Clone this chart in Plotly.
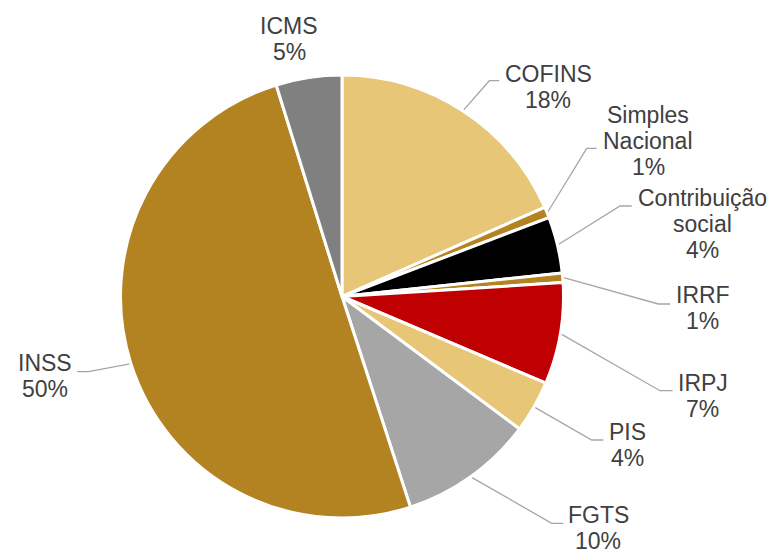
import math
import plotly.graph_objects as go

# --- data ---
labels = ['COFINS', 'Simples Nacional', 'Contribuição social', 'IRRF', 'IRPJ',
          'PIS', 'FGTS', 'INSS', 'ICMS']
values = [18.4, 0.8, 4.1, 0.7, 7.4, 3.8, 9.8, 50.2, 4.8]
colors = ['#E8C678', '#B38321', '#000000', '#B38321', '#C00000',
          '#E8C678', '#A6A6A6', '#B38321', '#808080']
label_lines = [['COFINS'], ['Simples', 'Nacional'], ['Contribuição', 'social'],
               ['IRRF'], ['IRPJ'], ['PIS'], ['FGTS'], ['INSS'], ['ICMS']]

# --- layout (pixels, figure is 770x552) ---
W, H = 770, 552
CX, CY, R = 342, 296.5, 221.5
label_pos = [(548, 74.3), (648, 115), (702.7, 198.3), (702.5, 295), (702.5, 383.3),
             (627.5, 431.7), (598.3, 515), (45, 363.3), (289, 25.8)]
# elbow point and end x of each leader line (None = no line)
elbows = [(489.3, 80.7, 499.3), (586.7, 148.3, 596.7), (620, 206, 631.7),
          (658.3, 304, 670), (660, 390.7, 672.7), (591.7, 440, 603.3),
          (551.7, 523.3, 563.3), (88.3, 371.7, 77.3), None]
FONT = dict(family='Liberation Sans, Arial, sans-serif', size=23, color='#404040')
PITCH = 26
LINE_COLOR = '#A6A6A6'

fig = go.Figure()

fig.add_trace(go.Pie(
    labels=labels, values=values, sort=False, direction='clockwise', rotation=0,
    marker=dict(colors=colors, line=dict(color='white', width=3)),
    textinfo='none', hoverinfo='label+percent', showlegend=False,
    domain=dict(x=[(CX - R) / W, (CX + R) / W],
                y=[(H - CY - R) / H, (H - CY + R) / H]),
))

total = sum(values)
cum = 0
annotations = []
for i, v in enumerate(values):
    mid = (cum + v / 2) / total * 2 * math.pi
    cum += v
    lines = label_lines[i] + [f'{round(v / total * 100)}%']
    lx, ly = label_pos[i]
    for j, t in enumerate(lines):
        annotations.append(dict(x=lx, y=ly + j * PITCH, xref='x', yref='y', text=t,
                                showarrow=False, xanchor='center', yanchor='middle',
                                font=FONT))
    if elbows[i] is None:
        continue
    sx = CX + (R + 1) * math.sin(mid)
    sy = CY - (R + 1) * math.cos(mid)
    ex, ey, hx = elbows[i]
    fig.add_trace(go.Scatter(x=[sx, ex, hx], y=[sy, ey, ey], mode='lines',
                             line=dict(color=LINE_COLOR, width=1.3),
                             hoverinfo='skip', showlegend=False))

fig.update_layout(
    width=W, height=H,
    margin=dict(l=0, r=0, t=0, b=0),
    paper_bgcolor='white', plot_bgcolor='rgba(0,0,0,0)',
    xaxis=dict(range=[0, W], visible=False, fixedrange=True),
    yaxis=dict(range=[H, 0], visible=False, fixedrange=True),
    annotations=annotations,
)

# page body has a default 8px margin; drop it so the figure fills the window
fig.write_html("out.html", config={'displayModeBar': False},
               post_script="document.body.style.margin='0';")
